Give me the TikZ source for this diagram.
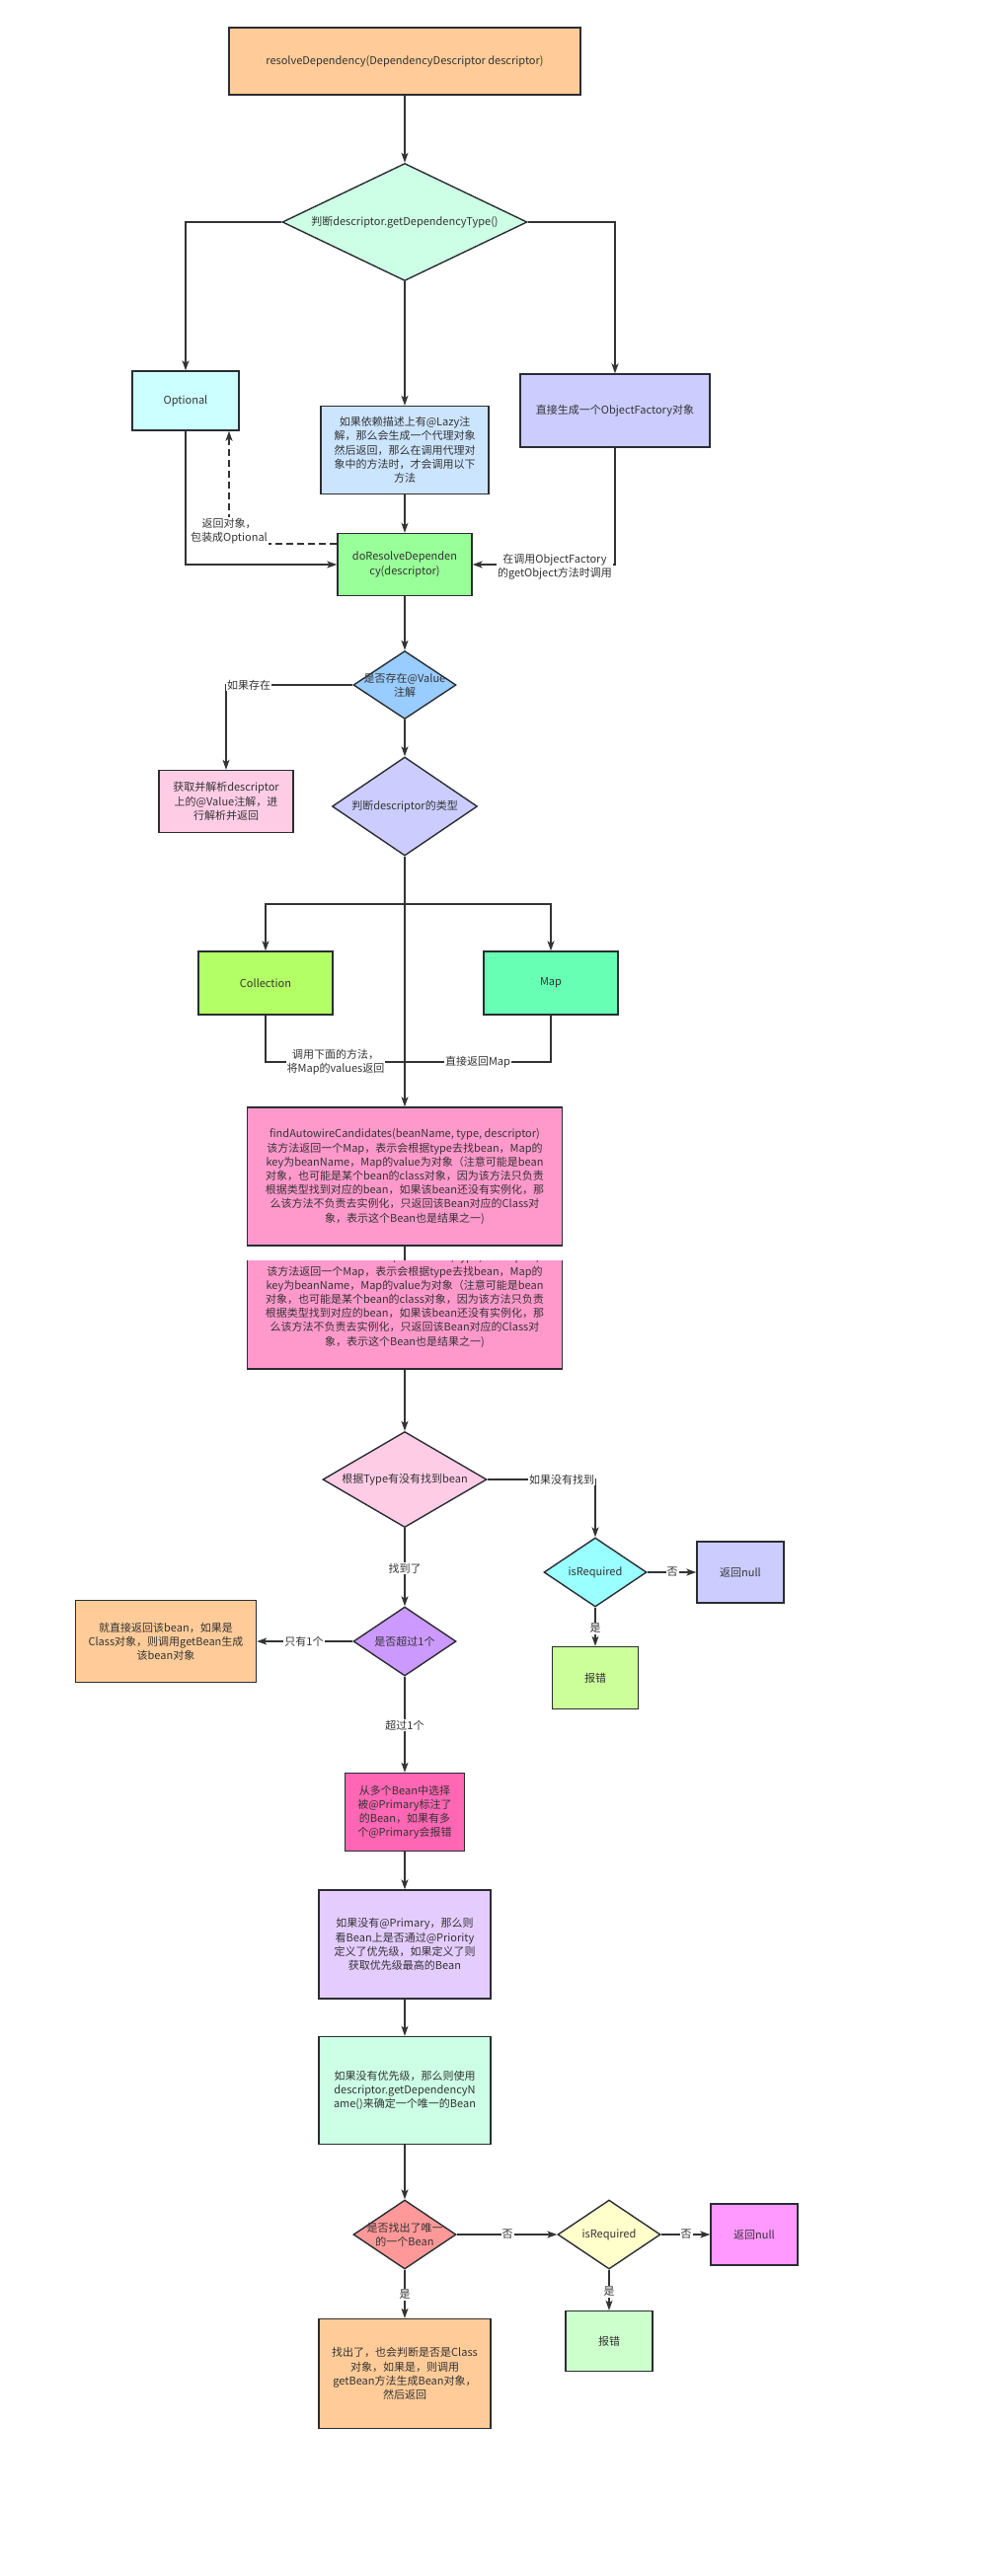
\documentclass[tikz,border=0pt]{standalone}
\usepackage{fontspec}
\setmainfont{Noto Sans CJK SC}
\usetikzlibrary{shapes.geometric,arrows.meta}
\definecolor{bordc}{HTML}{2A2D33}
\definecolor{linec}{HTML}{333333}
\definecolor{txtc}{HTML}{333333}
\definecolor{cOrange}{HTML}{FFCC99}
\definecolor{cMint}{HTML}{CCFFE6}
\definecolor{cCyanL}{HTML}{CCFFFF}
\definecolor{cBlueL}{HTML}{CCE5FF}
\definecolor{cLav}{HTML}{CCCCFF}
\definecolor{cGreen}{HTML}{99FF99}
\definecolor{cBlue}{HTML}{99CCFF}
\definecolor{cPinkL}{HTML}{FFCCE6}
\definecolor{cLime}{HTML}{B3FF66}
\definecolor{cSea}{HTML}{66FFB3}
\definecolor{cPink}{HTML}{FF99CC}
\definecolor{cCyan}{HTML}{99FFFF}
\definecolor{cYG}{HTML}{CCFF99}
\definecolor{cPurple}{HTML}{CC99FF}
\definecolor{cHot}{HTML}{FF66B3}
\definecolor{cLilac}{HTML}{E5CCFF}
\definecolor{cRed}{HTML}{FF9999}
\definecolor{cYellow}{HTML}{FFFFCC}
\definecolor{cMag}{HTML}{FF99FF}
\definecolor{cGreenL}{HTML}{CCFFCC}
\newcommand\fs{\fontsize{11pt}{14.2pt}\selectfont}
\tikzset{
  box/.style={draw=bordc, line width=1.4pt, rectangle, inner sep=2pt, align=center, text=txtc, font=\fs},
  dia/.style={draw=bordc, line width=1.4pt, diamond, inner sep=0pt},
  dtext/.style={align=center, text=txtc, font=\fs, inner sep=0pt},
  lab/.style={fill=white, inner sep=1pt, align=center, text=txtc, font=\fs},
  ln/.style={draw=linec, line width=1.2pt},
  arr/.style={ln, -{Stealth[length=10pt,width=7pt,inset=2.5pt]}},
  darr/.style={arr, dash pattern=on 7pt off 4pt},
}
\begin{document}
\begin{tikzpicture}[x=1pt,y=-1pt]
\useasboundingbox (0,0) rectangle (1013,2610);

% nodes
\node[box, fill=cOrange, minimum width=356pt, minimum height=68pt] (top) at (410,62) {resolveDependency(DependencyDescriptor descriptor)};
\node[dia, fill=cMint, minimum width=248pt, minimum height=119pt, label={[dtext]center:判断descriptor.getDependencyType()}] (d1) at (410,225) {};
\node[box, fill=cCyanL, minimum width=108pt, minimum height=60pt] (opt) at (188,406) {Optional};
\node[box, fill=cBlueL, minimum width=170pt, minimum height=89pt] (lazy) at (410,456) {如果依赖描述上有@Lazy注\\解，那么会生成一个代理对象\\然后返回，那么在调用代理对\\象中的方法时，才会调用以下\\方法};
\node[box, fill=cLav, minimum width=192pt, minimum height=74pt] (of) at (623,416) {直接生成一个ObjectFactory对象};
\node[box, fill=cGreen, minimum width=136pt, minimum height=63pt] (dor) at (410,572) {doResolveDependen\\cy(descriptor)};
\node[dia, fill=cBlue, minimum width=104pt, minimum height=69pt, label={[dtext]center:是否存在@Value\\注解}] (dv) at (410,694) {};
\node[box, fill=cPinkL, minimum width=136pt, minimum height=63pt] (pk) at (229,812) {获取并解析descriptor\\上的@Value注解，进\\行解析并返回};
\node[dia, fill=cLav, minimum width=147pt, minimum height=100pt, label={[dtext]center:判断descriptor的类型}] (dt) at (410,817) {};
\node[box, fill=cLime, minimum width=136pt, minimum height=64pt] (col) at (269,996) {Collection};
\node[box, fill=cSea, minimum width=136pt, minimum height=64pt] (map) at (558,996) {Map};
\node[box, fill=cPink, minimum width=319pt, minimum height=140pt] (f1) at (410,1192) {findAutowireCandidates(beanName, type, descriptor)\\该方法返回一个Map，表示会根据type去找bean，Map的\\key为beanName，Map的value为对象（注意可能是bean\\对象，也可能是某个bean的class对象，因为该方法只负责\\根据类型找到对应的bean，如果该bean还没有实例化，那\\么该方法不负责去实例化，只返回该Bean对应的Class对\\象，表示这个Bean也是结果之一)};
\begin{scope}
\clip (230,1277) rectangle (590,1400);
\node[box, fill=cPink, minimum width=319pt, minimum height=140pt] (f2) at (410,1317) {findAutowireCandidates(beanName, type, descriptor)\\该方法返回一个Map，表示会根据type去找bean，Map的\\key为beanName，Map的value为对象（注意可能是bean\\对象，也可能是某个bean的class对象，因为该方法只负责\\根据类型找到对应的bean，如果该bean还没有实例化，那\\么该方法不负责去实例化，只返回该Bean对应的Class对\\象，表示这个Bean也是结果之一)};
\end{scope}
\coordinate (f2top) at (410,1277);
\node[dia, fill=cPinkL, minimum width=166pt, minimum height=97pt, label={[dtext]center:根据Type有没有找到bean}] (d3) at (410,1499) {};
\node[dia, fill=cCyan, minimum width=104pt, minimum height=70pt, label={[dtext]center:isRequired}] (ir1) at (603,1593) {};
\node[box, fill=cLav, minimum width=88pt, minimum height=62pt] (n1) at (750,1593) {返回null};
\node[box, fill=cYG, minimum width=87pt, minimum height=63pt] (e1) at (603,1700) {报错};
\node[dia, fill=cPurple, minimum width=104pt, minimum height=70pt, label={[dtext]center:是否超过1个}] (d4) at (410,1663) {};
\node[box, fill=cOrange, minimum width=183pt, minimum height=83pt] (o1) at (168,1663) {就直接返回该bean，如果是\\Class对象，则调用getBean生成\\该bean对象};
\node[box, fill=cHot, minimum width=121pt, minimum height=79pt] (hp) at (410,1836) {从多个Bean中选择\\被@Primary标注了\\的Bean，如果有多\\个@Primary会报错};
\node[box, fill=cLilac, minimum width=174pt, minimum height=110pt] (lv) at (410,1970) {如果没有@Primary，那么则\\看Bean上是否通过@Priority\\定义了优先级，如果定义了则\\获取优先级最高的Bean};
\node[box, fill=cMint, minimum width=174pt, minimum height=109pt] (mt) at (410,2118) {如果没有优先级，那么则使用\\descriptor.getDependencyN\\ame()来确定一个唯一的Bean};
\node[dia, fill=cRed, minimum width=104pt, minimum height=70pt, label={[dtext]center:是否找出了唯一\\的一个Bean}] (d5) at (410,2264) {};
\node[dia, fill=cYellow, minimum width=104pt, minimum height=70pt, label={[dtext]center:isRequired}] (d6) at (617,2264) {};
\node[box, fill=cMag, minimum width=88pt, minimum height=62pt] (n2) at (764,2264) {返回null};
\node[box, fill=cGreenL, minimum width=88pt, minimum height=61pt] (e2) at (617,2372) {报错};
\node[box, fill=cOrange, minimum width=174pt, minimum height=111pt] (o2) at (410,2405) {找出了，也会判断是否是Class\\对象，如果是，则调用\\getBean方法生成Bean对象，\\然后返回};

% connectors
\draw[arr] (top.south) -- (d1.north);
\draw[arr] (d1.west) -| (opt.north);
\draw[arr] (d1.east) -| (of.north);
\draw[arr] (d1.south) -- (lazy.north);
\draw[arr] (lazy.south) -- (dor.north);
\draw[arr] (opt.south) |- (dor.west);
\coordinate (dc) at (232,551);
\draw[darr] (dor.west |- dc) -- (dc) -- (dc |- opt.south);
\node[lab] (l1) at (232,538) {返回对象，\\包装成Optional};
\draw[arr] (of.south) |- (dor.east);
\node[lab] (l2) at (562,574) {在调用ObjectFactory\\的getObject方法时调用};
\draw[arr] (dor.south) -- (dv.north);
\draw[arr] (dv.west) -| (pk.north);
\node[lab] (l3) at (252,694) {如果存在};
\draw[arr] (dv.south) -- (dt.north);
\coordinate (br) at (410,916);
\draw[arr] (dt.south) -- (f1.north);
\draw[arr] (br) -| (col.north);
\draw[arr] (br) -| (map.north);
\coordinate (jn) at (410,1076);
\draw[ln] (col.south) |- (jn);
\draw[ln] (map.south) |- (jn);
\node[lab] (l4) at (340,1076) {调用下面的方法，\\将Map的values返回};
\node[lab] (l5) at (484,1076) {直接返回Map};
\draw[ln] (f1.south) -- (f2top);
\draw[arr] (f2.south) -- (d3.north);
\draw[arr] (d3.east) -| (ir1.north);
\node[lab] (l6) at (569,1499) {如果没有找到};
\draw[arr] (ir1.east) -- (n1.west);
\node[lab] (l7) at (681,1593) {否};
\draw[arr] (ir1.south) -- (e1.north);
\node[lab] (l8) at (603,1650) {是};
\draw[arr] (d3.south) -- (d4.north);
\node[lab] (l9) at (410,1589) {找到了};
\draw[arr] (d4.west) -- (o1.east);
\node[lab] (l10) at (308,1663) {只有1个};
\draw[arr] (d4.south) -- (hp.north);
\node[lab] (l11) at (410,1748) {超过1个};
\draw[arr] (hp.south) -- (lv.north);
\draw[arr] (lv.south) -- (mt.north);
\draw[arr] (mt.south) -- (d5.north);
\draw[arr] (d5.east) -- (d6.west);
\node[lab] (l12) at (514,2264) {否};
\draw[arr] (d6.east) -- (n2.west);
\node[lab] (l13) at (695,2264) {否};
\draw[arr] (d6.south) -- (e2.north);
\node[lab] (l14) at (617,2322) {是};
\draw[arr] (d5.south) -- (o2.north);
\node[lab] (l15) at (410,2325) {是};
\end{tikzpicture}
\end{document}
